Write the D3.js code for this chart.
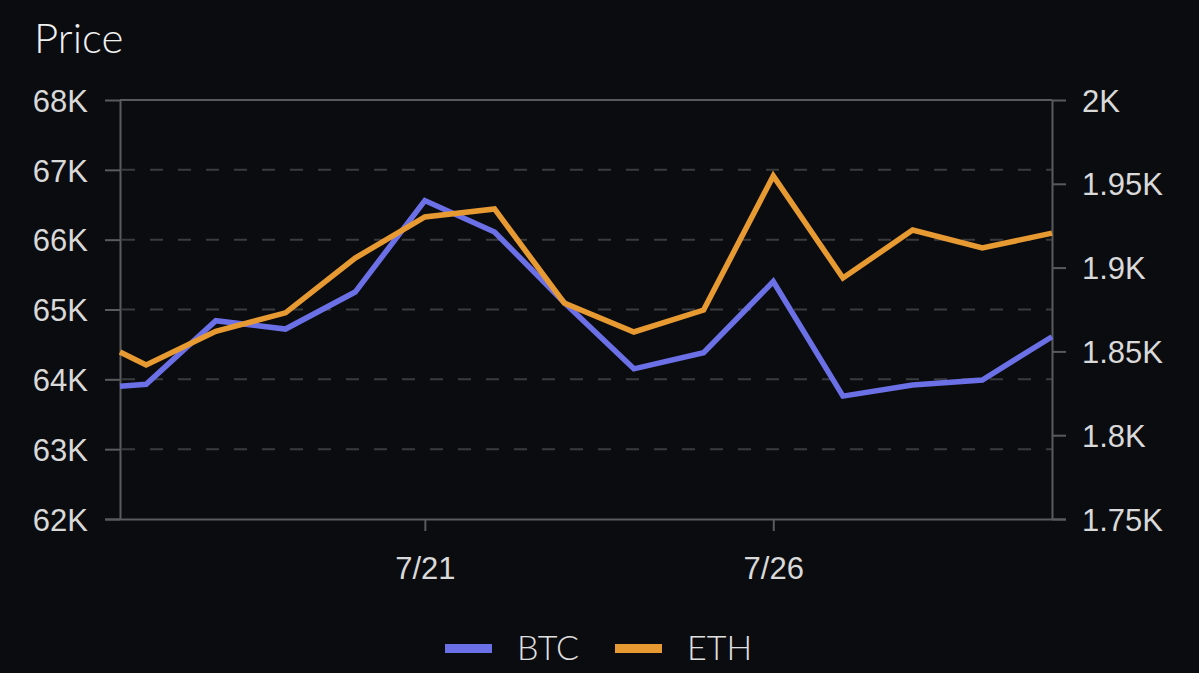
<!DOCTYPE html>
<html>
<head>
<meta charset="utf-8">
<script src="https://cdn.jsdelivr.net/npm/d3@7"></script>
<style>
  html, body { margin: 0; padding: 0; background: #0b0c10; }
  svg { display: block; font-family: Lato, "Open Sans", sans-serif; }
  .axis text { fill: #d9d9d9; font-size: 31px; font-weight: 300; }
  .axis path, .axis line { stroke: #5a5a5c; stroke-width: 2; }
</style>
</head>
<body>
<div id="chart"></div>
<script>
// Data
const dates = ["2024-07-16T15:00", "2024-07-17", "2024-07-18", "2024-07-19", "2024-07-20",
  "2024-07-21", "2024-07-22", "2024-07-23", "2024-07-24", "2024-07-25",
  "2024-07-26", "2024-07-27", "2024-07-28", "2024-07-29", "2024-07-30"];
const btc = [63900, 63930, 64840, 64720, 65250, 66560, 66110, 65100, 64150, 64380,
  65400, 63760, 63920, 63990, 64610];
const eth = [1849.6, 1841.9, 1862, 1873, 1905.7, 1930.2, 1935, 1878.9, 1861.6, 1874.7,
  1954.7, 1893.8, 1922.4, 1911.7, 1920.6];
const xTickDates = ["2024-07-21", "2024-07-26"];
const btcTicks = [62000, 63000, 64000, 65000, 66000, 67000, 68000];
const ethTicks = [1750, 1800, 1850, 1900, 1950, 2000];
const seriesNames = ["BTC", "ETH"];
const seriesColors = ["#6c70e6", "#e89a32"];

const W = 1199, H = 673;
const margin = { top: 100, right: 147, bottom: 154, left: 120 };
const width = W - margin.left - margin.right;
const height = H - margin.top - margin.bottom;

const parse = d3.isoParse;
const times = dates.map(d => parse(d));

const svg = d3.select("#chart").append("svg")
  .attr("width", W).attr("height", H);

svg.append("rect").attr("width", W).attr("height", H).attr("fill", "#0b0c10");

svg.append("text")
  .attr("x", 34).attr("y", 53)
  .attr("fill", "#f0f0f0")
  .style("font-size", "42px").style("font-weight", 300)
  .text("Price");

const g = svg.append("g").attr("transform", `translate(${margin.left},${margin.top})`);

const x = d3.scaleTime().domain(d3.extent(times)).range([0, width]);
const yL = d3.scaleLinear().domain([62000, 68000]).range([height, 0]);
const yR = d3.scaleLinear().domain([1750, 2000]).range([height, 0]);

const kFmt = v => (v / 1000) + "K";

// dashed grid from left ticks
g.append("g").selectAll("line")
  .data(btcTicks.slice(1, -1))
  .join("line")
  .attr("x1", 0).attr("x2", width)
  .attr("y1", d => yL(d)).attr("y2", d => yL(d))
  .attr("stroke", "#3a3b3f").attr("stroke-width", 2)
  .attr("stroke-dasharray", "13 15")
  .attr("stroke-dashoffset", -2);

// solid top border
g.append("line")
  .attr("x1", 0).attr("x2", width)
  .attr("y1", 0).attr("y2", 0)
  .attr("stroke", "#5a5a5c").attr("stroke-width", 2);

const yAxisL = g.append("g").attr("class", "axis")
  .call(d3.axisLeft(yL).tickValues(btcTicks).tickFormat(kFmt).tickSize(15).tickSizeOuter(0).tickPadding(17));

const yAxisR = g.append("g").attr("class", "axis")
  .attr("transform", `translate(${width},0)`)
  .call(d3.axisRight(yR).tickValues(ethTicks).tickFormat(kFmt).tickSize(14).tickSizeOuter(0).tickPadding(16));

const xAxis = g.append("g").attr("class", "axis")
  .attr("transform", `translate(0,${height})`)
  .call(d3.axisBottom(x).tickValues(xTickDates.map(parse)).tickFormat(d3.timeFormat("%-m/%-d")).tickSize(12).tickSizeOuter(0).tickPadding(26));

xAxis.select(".domain").attr("d", `M-15,0.5H${width + 14}`);
[yAxisL, yAxisR].forEach(a => a.selectAll("text").attr("dy", "0.36em"));

const lineL = d3.line().x((d, i) => x(times[i])).y(d => yL(d));
const lineR = d3.line().x((d, i) => x(times[i])).y(d => yR(d));

g.append("path").datum(btc)
  .attr("d", lineL)
  .attr("fill", "none").attr("stroke", seriesColors[0]).attr("stroke-width", 5.5)
  .attr("stroke-linejoin", "miter");

g.append("path").datum(eth)
  .attr("d", lineR)
  .attr("fill", "none").attr("stroke", seriesColors[1]).attr("stroke-width", 5.5)
  .attr("stroke-linejoin", "miter");

// legend
const legend = svg.append("g").attr("transform", "translate(445,648)");
const lx = [0, 170];
seriesNames.forEach((name, i) => {
  const item = legend.append("g").attr("transform", `translate(${lx[i]},0)`);
  item.append("rect").attr("x", 0).attr("y", -4).attr("width", 47).attr("height", 9)
    .attr("fill", seriesColors[i]);
  item.append("text").attr("x", 72).attr("y", 0).attr("dy", "0.36em")
    .attr("fill", "#e0e0e0").style("font-size", "34px").style("font-weight", 300)
    .text(name);
});
</script>
</body>
</html>
